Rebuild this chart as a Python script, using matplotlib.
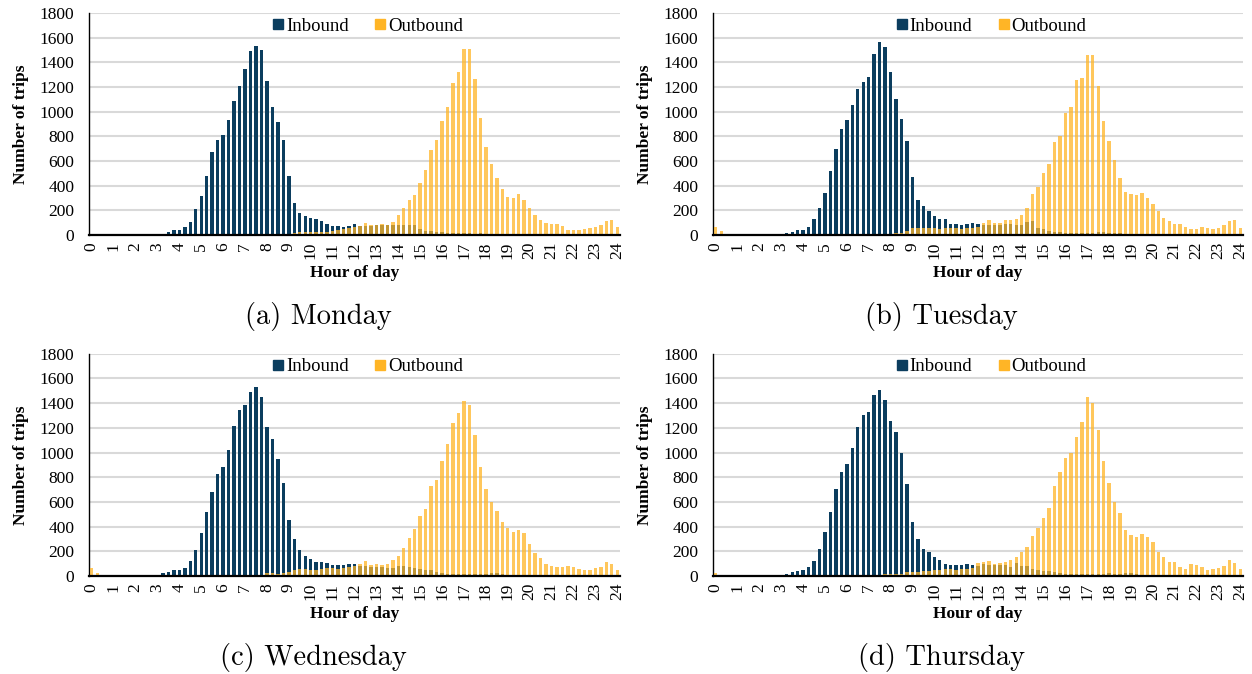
import numpy as np
import matplotlib
matplotlib.use("Agg")
import matplotlib.pyplot as plt
from matplotlib.lines import Line2D

# 15-minute bins from 0:00 to 24:00 (97 bars)
hour_labels = [str(h) for h in range(25)]
days = ["(a) Monday", "(b) Tuesday", "(c) Wednesday", "(d) Thursday"]

mon_in = [0, 0, 0, 0, 0, 0, 0, 0, 0,
          3, 3, 5, 8, 8, 25, 38, 40,
          62, 105, 210, 318, 480, 675, 770, 810,
          930, 1083, 1205, 1350, 1493, 1535, 1500, 1250,
          1038, 915, 768, 480, 260, 178, 154, 135,
          127, 116, 89, 73, 73, 62, 76, 86,
          72, 70, 75, 82, 78, 82, 80, 80,
          80, 80, 78, 48, 35, 35, 28, 22,
          20, 18, 15, 14, 14, 12, 14, 12,
          12, 10, 10, 8, 8, 8, 6, 6,
          5, 5, 5, 5, 4, 4, 4, 4,
          4, 3, 3, 3, 3, 3, 3, 3]
mon_out = [0, 0, 0, 0, 0, 0, 0, 0, 0,
           0, 0, 0, 0, 0, 0, 0, 0,
           0, 0, 0, 0, 0, 0, 0, 0,
           0, 0, 3, 3, 5, 5, 5, 5,
           6, 8, 10, 12, 20, 22, 22, 27,
           24, 22, 27, 35, 40, 51, 59, 65,
           76, 97, 78, 78, 86, 81, 103, 162,
           221, 284, 321, 424, 527, 691, 767, 926,
           1037, 1231, 1320, 1507, 1512, 1261, 945, 713,
           575, 459, 370, 308, 300, 332, 281, 216,
           162, 122, 97, 89, 89, 73, 43, 40,
           38, 49, 54, 62, 78, 116, 122, 68]

tue_in = [0, 0, 0, 0, 0, 0, 0, 0, 0,
          3, 3, 5, 8, 15, 25, 38, 43,
          65, 130, 216, 343, 521, 700, 861, 929,
          1053, 1183, 1242, 1285, 1466, 1566, 1525, 1318,
          1099, 942, 759, 467, 286, 232, 192, 154,
          132, 127, 89, 89, 78, 92, 95, 89,
          85, 80, 82, 85, 88, 86, 85, 80,
          105, 110, 60, 45, 35, 28, 22, 18,
          15, 14, 15, 18, 20, 24, 24, 20,
          18, 15, 12, 10, 8, 8, 6, 6,
          5, 5, 5, 4, 4, 3, 3, 3,
          3, 3, 3, 3, 3, 3, 3, 3]
tue_out = [68, 32, 0, 0, 0, 0, 0, 0, 0,
           0, 0, 0, 0, 0, 0, 0, 0,
           0, 0, 0, 0, 0, 0, 0, 0,
           0, 0, 3, 3, 3, 5, 8, 12,
           15, 20, 35, 55, 55, 60, 58, 55,
           46, 54, 54, 54, 51, 57, 59, 68,
           100, 120, 100, 100, 120, 122, 130, 162,
           221, 332, 392, 500, 578, 756, 805, 986,
           1040, 1253, 1272, 1458, 1463, 1210, 926, 764,
           608, 464, 351, 332, 324, 340, 302, 248,
           194, 135, 113, 89, 86, 65, 46, 49,
           68, 59, 46, 59, 81, 116, 122, 59]

wed_in = [0, 0, 0, 0, 0, 0, 3, 3, 3,
          3, 8, 8, 8, 22, 35, 46, 49,
          65, 121, 210, 345, 516, 680, 826, 886,
          1020, 1212, 1347, 1382, 1488, 1531, 1447, 1207,
          1112, 948, 750, 451, 300, 211, 165, 140,
          116, 113, 103, 89, 89, 86, 97, 97,
          82, 80, 76, 72, 70, 64, 66, 82,
          84, 76, 62, 54, 49, 45, 32, 25,
          20, 18, 16, 15, 15, 18, 20, 20,
          25, 25, 15, 12, 10, 8, 8, 6,
          6, 5, 5, 5, 4, 4, 4, 4,
          3, 3, 3, 3, 3, 3, 3, 3]
wed_out = [62, 25, 0, 0, 0, 0, 0, 0, 0,
           0, 0, 0, 0, 0, 0, 0, 0,
           0, 0, 0, 0, 0, 0, 0, 0,
           0, 0, 0, 3, 5, 5, 8, 22,
           28, 20, 25, 35, 48, 60, 55, 52,
           52, 58, 62, 65, 60, 68, 75, 80,
           100, 125, 92, 95, 89, 97, 130, 165,
           230, 310, 378, 486, 540, 729, 775, 934,
           1069, 1237, 1318, 1420, 1385, 1142, 886, 705,
           602, 524, 435, 386, 356, 373, 346, 259,
           186, 143, 100, 84, 76, 76, 81, 76,
           59, 51, 49, 68, 76, 111, 95, 51]

thu_in = [0, 0, 0, 0, 0, 0, 3, 0, 0,
          0, 0, 0, 5, 13, 30, 40, 49,
          70, 124, 219, 354, 521, 707, 845, 910,
          1034, 1204, 1301, 1328, 1466, 1509, 1423, 1253,
          1169, 994, 745, 435, 297, 219, 192, 151,
          132, 97, 89, 89, 89, 100, 89, 80,
          95, 86, 86, 92, 90, 76, 103, 84,
          78, 57, 49, 43, 38, 30, 24, 20,
          20, 18, 15, 15, 15, 18, 20, 22,
          20, 18, 22, 25, 15, 10, 8, 8,
          6, 5, 5, 5, 4, 4, 4, 4,
          3, 3, 3, 3, 3, 3, 3, 3]
thu_out = [22, 0, 0, 0, 0, 0, 0, 0, 0,
           0, 0, 0, 0, 0, 0, 0, 0,
           0, 0, 0, 0, 0, 0, 0, 0,
           0, 0, 0, 3, 5, 8, 15, 20,
           20, 15, 30, 30, 35, 38, 40, 45,
           50, 58, 55, 52, 58, 58, 62, 103,
           116, 119, 100, 105, 111, 127, 151, 194,
           232, 327, 386, 473, 548, 732, 840, 956,
           996, 1126, 1247, 1447, 1401, 1183, 929, 751,
           599, 508, 373, 332, 316, 340, 319, 275,
           194, 154, 113, 113, 70, 57, 100, 89,
           70, 46, 59, 65, 81, 127, 104, 54]

inbound = [mon_in, tue_in, wed_in, thu_in]
outbound = [mon_out, tue_out, wed_out, thu_out]

c_in = "#0B3D5E"
c_out = "#FFB526"
serif = "Liberation Serif"

fig = plt.figure(figsize=(12.52, 6.74), dpi=100)

# axes rectangles in figure fractions (left, bottom, width, height)
rects = [(0.0711, 0.6513, 0.4241, 0.3294),
         (0.5695, 0.6513, 0.4233, 0.3294),
         (0.0711, 0.1454, 0.4241, 0.3298),
         (0.5695, 0.1454, 0.4233, 0.3298)]
cap_pos = [(0.254, 0.531), (0.752, 0.531), (0.250, 0.025), (0.752, 0.025)]

for k in range(4):
    ax = fig.add_axes(rects[k])
    x = np.arange(len(inbound[k]))
    ax.bar(x, inbound[k], width=0.62, color=c_in, zorder=2)
    ax.bar(x, outbound[k], width=0.62, color=c_out, alpha=0.75, zorder=3)

    ax.set_xlim(-0.5, len(x) - 0.5)
    ax.set_ylim(0, 1800)
    ax.set_yticks(range(0, 1801, 200))
    ax.set_xticks(x[::4])
    ax.set_xticklabels(hour_labels, rotation=90)
    ax.grid(axis="y", color="#D9D9D9", linewidth=1.5, zorder=0)
    ax.set_axisbelow(True)
    for s in ["top", "right"]:
        ax.spines[s].set_visible(False)
    ax.spines["left"].set_linewidth(1.0)
    ax.spines["bottom"].set_linewidth(1.6)
    ax.spines["bottom"].set_zorder(5)
    ax.tick_params(axis="y", length=0, pad=10.5, labelsize=12.5)
    ax.tick_params(axis="x", length=0, pad=5, labelsize=12.5)
    for t in ax.get_xticklabels() + ax.get_yticklabels():
        t.set_fontfamily(serif)

    ax.set_ylabel("Number of trips", fontsize=12.5, fontweight="bold",
                  family=serif, labelpad=8)
    ax.set_xlabel("Hour of day", fontsize=12.5, fontweight="bold",
                  family=serif, labelpad=4)

    handles = [Line2D([], [], marker="s", linestyle="", markersize=7.5, color=c_in),
               Line2D([], [], marker="s", linestyle="", markersize=7.5, color=c_out)]
    ax.legend(handles, ["Inbound", "Outbound"], loc="upper center",
              bbox_to_anchor=(0.525, 1.055), ncol=2, frameon=False,
              handlelength=0.6, handletextpad=0.1, columnspacing=1.4,
              prop={"family": serif, "size": 13.5})

    fig.text(cap_pos[k][0], cap_pos[k][1], days[k], ha="center", va="center",
             family="cmr10", fontsize=20.5)

fig.savefig("out.png", dpi=100)
